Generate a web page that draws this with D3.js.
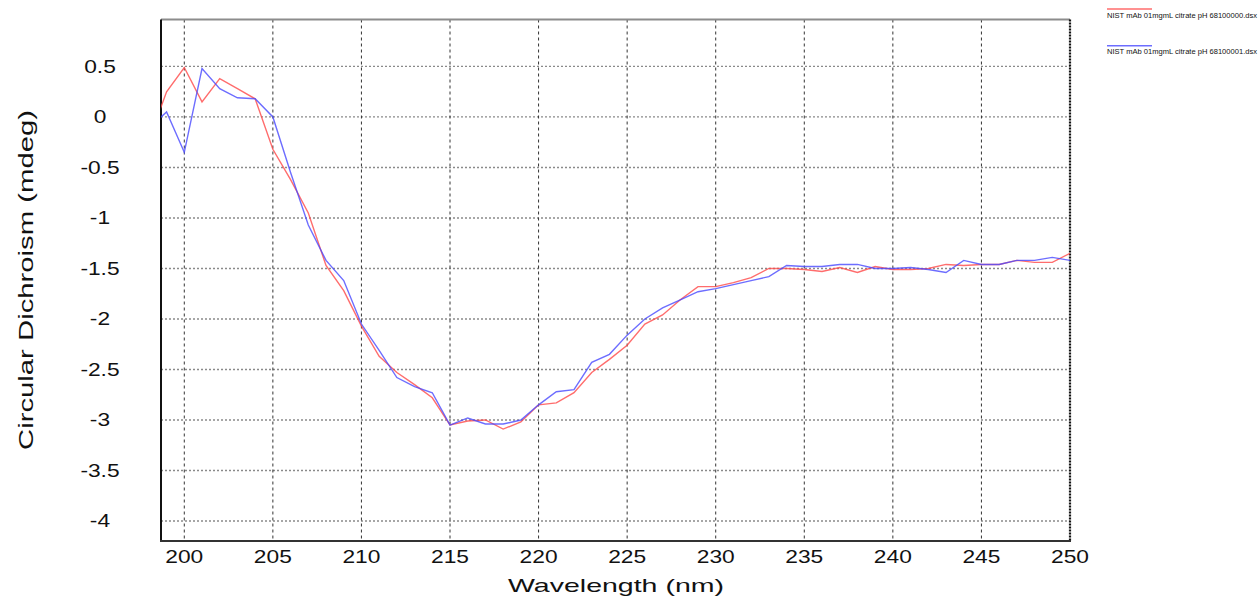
<!DOCTYPE html>
<html>
<head>
<meta charset="utf-8">
<script src="https://d3js.org/d3.v7.min.js"></script>
<style>
  body { margin: 0; background: #fff; }
  text { font-family: "Liberation Sans", Arial, sans-serif; fill: #111; }
</style>
</head>
<body>
<svg id="chart" width="1259" height="598"></svg>
<script>
// wavelengths, 1 nm steps
const wavelengths = d3.range(198, 251);

// NIST mAb 01mgmL citrate pH 68100000.dsx
const run0 = [
  -0.23, 0.25, 0.49, 0.15, 0.38, 0.28, 0.18, -0.32, -0.62, -0.95,
  -1.47, -1.72, -2.07, -2.37, -2.53, -2.65, -2.78, -3.05, -3.01, -3.00,
  -3.09, -3.02, -2.85, -2.83, -2.73, -2.53, -2.40, -2.26, -2.05, -1.96,
  -1.81, -1.68, -1.68, -1.64, -1.59, -1.50, -1.50, -1.51, -1.53, -1.49,
  -1.54, -1.48, -1.51, -1.51, -1.50, -1.46, -1.47, -1.46, -1.46, -1.42,
  -1.44, -1.44, -1.35
];

// NIST mAb 01mgmL citrate pH 68100001.dsx
const run1 = [
  -0.11, 0.05, -0.35, 0.48, 0.28, 0.19, 0.18, 0.00, -0.55, -1.07,
  -1.42, -1.62, -2.05, -2.31, -2.58, -2.67, -2.73, -3.05, -2.98, -3.04,
  -3.04, -3.00, -2.85, -2.72, -2.70, -2.43, -2.35, -2.16, -2.00, -1.89,
  -1.81, -1.73, -1.70, -1.66, -1.62, -1.58, -1.47, -1.48, -1.48, -1.46,
  -1.46, -1.50, -1.50, -1.49, -1.51, -1.54, -1.42, -1.46, -1.46, -1.42,
  -1.42, -1.39, -1.42
];

const seriesNames = [
  "NIST mAb 01mgmL citrate pH 68100000.dsx",
  "NIST mAb 01mgmL citrate pH 68100001.dsx"
];
const seriesColors = ["#ff4848", "#4848ff"];

const xTicks = d3.range(200, 251, 5);
const yTicks = d3.range(0.5, -4.01, -0.5);

const svg = d3.select("#chart");

// plot frame
const plotLeft = 161, plotRight = 1070, plotTop = 19.5, plotBottom = 541;

const x = d3.scaleLinear().domain([198.685, 250]).range([plotLeft, plotRight]);
const y = d3.scaleLinear().domain([-4.198, 0.965]).range([plotBottom, plotTop]);

// the original text looks wider than Arial, stretch it a bit
function stretch(sel, k) {
  sel.each(function () {
    const len = this.getComputedTextLength();
    d3.select(this).attr("textLength", len * k).attr("lengthAdjust", "spacingAndGlyphs");
  });
}

// grid lines
svg.append("g")
  .selectAll("line")
  .data(yTicks)
  .join("line")
  .attr("x1", plotLeft).attr("x2", plotRight)
  .attr("y1", d => y(d)).attr("y2", d => y(d))
  .attr("stroke", "#8a8a8a")
  .attr("stroke-width", 1.3)
  .attr("stroke-dasharray", "2,2");

svg.append("g")
  .selectAll("line")
  .data(xTicks.filter(d => d < 250))
  .join("line")
  .attr("x1", d => x(d)).attr("x2", d => x(d))
  .attr("y1", plotTop).attr("y2", plotBottom)
  .attr("stroke", "#333")
  .attr("stroke-width", 1)
  .attr("stroke-dasharray", "3,3");

// frame
svg.append("line").attr("x1", plotLeft).attr("x2", plotRight).attr("y1", plotTop).attr("y2", plotTop)
  .attr("stroke", "#8c8c8c").attr("stroke-width", 2);
svg.append("line").attr("x1", plotRight).attr("x2", plotRight).attr("y1", plotTop).attr("y2", plotBottom)
  .attr("stroke", "#111").attr("stroke-width", 2.2).attr("stroke-dasharray", "2,1");
svg.append("line").attr("x1", plotLeft).attr("x2", plotLeft).attr("y1", plotTop).attr("y2", plotBottom + 1)
  .attr("stroke", "#111").attr("stroke-width", 2);
svg.append("line").attr("x1", plotLeft - 1).attr("x2", plotRight + 1).attr("y1", plotBottom).attr("y2", plotBottom)
  .attr("stroke", "#333").attr("stroke-width", 2.2);

// tick labels
svg.append("g")
  .selectAll("text")
  .data(xTicks)
  .join("text")
  .attr("x", d => x(d))
  .attr("y", 562.5)
  .attr("text-anchor", "middle")
  .attr("font-size", 17.5)
  .text(d => d)
  .call(stretch, 1.3);

// plain hyphen for the minus sign, like the original software
svg.append("g")
  .selectAll("text")
  .data(yTicks)
  .join("text")
  .attr("x", 100)
  .attr("y", d => y(d) + 6.3)
  .attr("text-anchor", "middle")
  .attr("font-size", 17.5)
  .text(d => String(+d.toFixed(1)))
  .call(stretch, 1.3);

// axis titles
svg.append("text")
  .attr("x", 616)
  .attr("y", 592)
  .attr("text-anchor", "middle")
  .attr("font-size", 19)
  .attr("textLength", 216)
  .attr("lengthAdjust", "spacingAndGlyphs")
  .text("Wavelength (nm)");

svg.append("text")
  .attr("transform", "translate(33,280) rotate(-90)")
  .attr("text-anchor", "middle")
  .attr("font-size", 21)
  .attr("textLength", 340)
  .attr("lengthAdjust", "spacingAndGlyphs")
  .text("Circular Dichroism (mdeg)");

// curves
svg.append("clipPath").attr("id", "plot-clip")
  .append("rect").attr("x", plotLeft).attr("y", plotTop)
  .attr("width", plotRight - plotLeft).attr("height", plotBottom - plotTop);

const line = d3.line()
  .x((d, i) => x(wavelengths[i]))
  .y(d => y(d));

svg.append("g")
  .attr("clip-path", "url(#plot-clip)")
  .selectAll("path")
  .data([run0, run1])
  .join("path")
  .attr("d", line)
  .attr("fill", "none")
  .attr("stroke", (d, i) => seriesColors[i])
  .attr("stroke-opacity", 0.8)
  .attr("stroke-width", 1.4);

// legend, top right corner
const legend = svg.append("g")
  .selectAll("g")
  .data(seriesNames)
  .join("g")
  .attr("transform", (d, i) => `translate(1107,${9 + i * 36.7})`);

legend.append("line")
  .attr("x1", 0).attr("x2", 45)
  .attr("stroke", (d, i) => seriesColors[i])
  .attr("stroke-opacity", 0.8)
  .attr("stroke-width", 1.5);

legend.append("text")
  .attr("x", 0)
  .attr("y", 8.5)
  .attr("font-size", 6.5)
  .attr("fill", "#444")
  .attr("textLength", 150)
  .attr("lengthAdjust", "spacingAndGlyphs")
  .text(d => d);
</script>
</body>
</html>
